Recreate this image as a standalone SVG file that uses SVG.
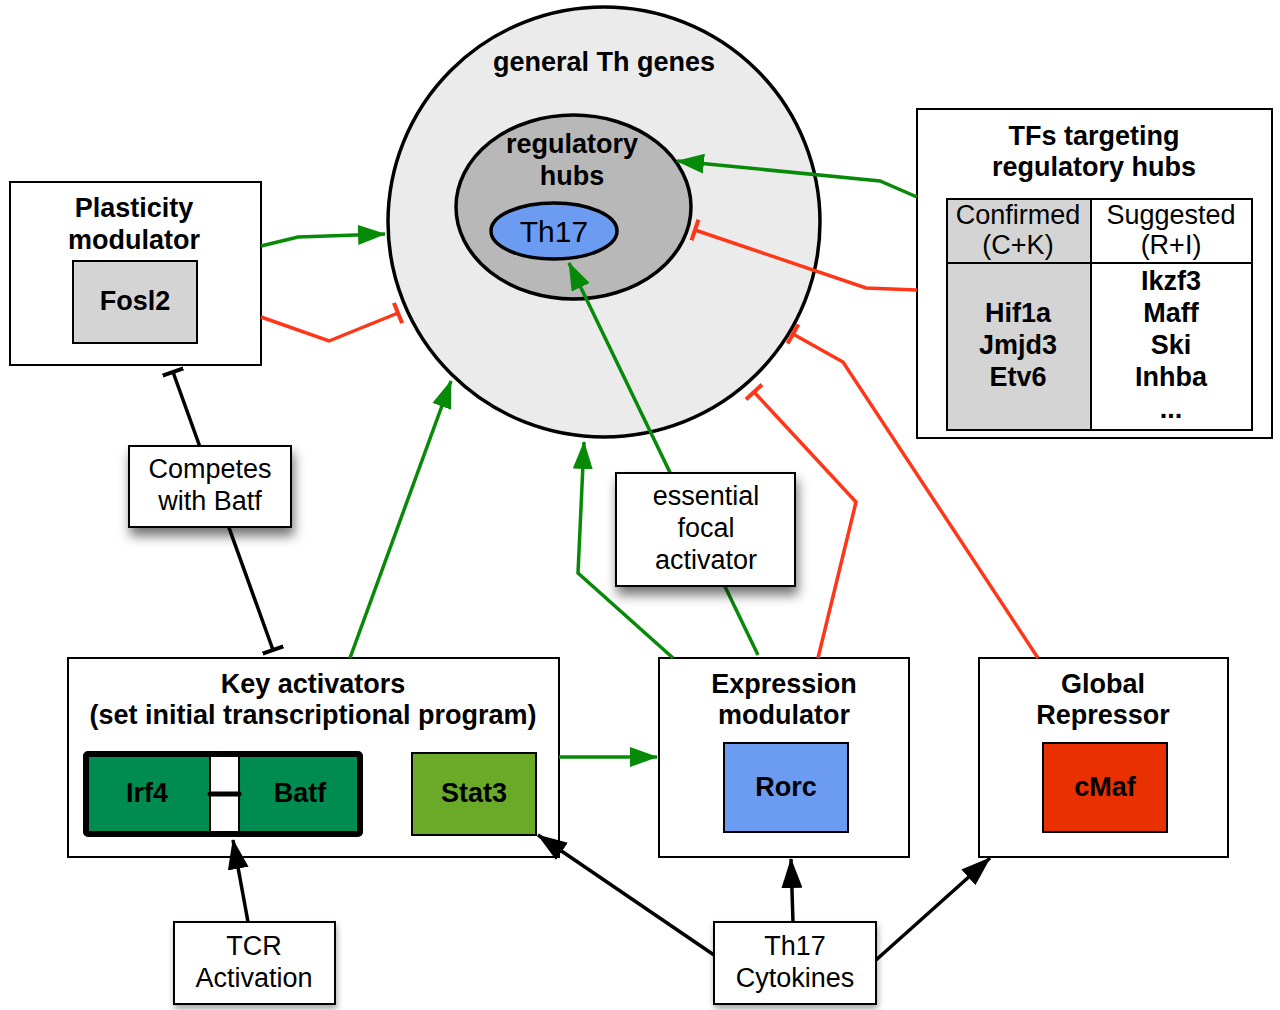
<svg xmlns="http://www.w3.org/2000/svg" width="1280" height="1010" viewBox="0 0 1280 1010">
<style>
text{font-family:"Liberation Sans",Arial,sans-serif;font-size:27px;fill:#000;text-anchor:middle}
.b{font-weight:bold}
.box{fill:#fff;stroke:#000;stroke-width:2}
.g{fill:none;stroke:#078a07;stroke-width:3.5}
.r{fill:none;stroke:#ff3617;stroke-width:3.5}
.k{fill:none;stroke:#000;stroke-width:3.5}
</style>
<defs>
<marker id="ag" viewBox="0 0 28 20" refX="27" refY="10" markerWidth="28" markerHeight="20" orient="auto" markerUnits="userSpaceOnUse"><path d="M0,0 L28,10 L0,20 z" fill="#078a07"/></marker>
<marker id="ak" viewBox="0 0 30 21" refX="29" refY="10.5" markerWidth="30" markerHeight="21" orient="auto" markerUnits="userSpaceOnUse"><path d="M0,0 L30,10.5 L0,21 z" fill="#000"/></marker>
<marker id="br" viewBox="0 0 6 22" refX="3" refY="11" markerWidth="6" markerHeight="22" orient="auto" markerUnits="userSpaceOnUse"><path d="M3,0 L3,22" stroke="#ff3617" stroke-width="4"/></marker>
<marker id="bk" viewBox="0 0 6 22" refX="3" refY="11" markerWidth="6" markerHeight="22" orient="auto" markerUnits="userSpaceOnUse"><path d="M3,0 L3,22" stroke="#000" stroke-width="4"/></marker>
<filter id="sh" x="-20%" y="-20%" width="150%" height="170%"><feDropShadow dx="2" dy="8" stdDeviation="6" flood-color="#000" flood-opacity="0.55"/></filter>
<filter id="sh2" x="-20%" y="-20%" width="150%" height="160%"><feDropShadow dx="1" dy="4" stdDeviation="3" flood-color="#000" flood-opacity="0.35"/></filter>
</defs>

<g id="general-th-genes">
<ellipse cx="604" cy="222" rx="216" ry="215" fill="#ebebeb" stroke="#000" stroke-width="3.5"/>
<text class="b" x="604" y="71">general Th genes</text>
</g>
<g id="regulatory-hubs">
<ellipse cx="573.5" cy="207" rx="117.5" ry="92" fill="#b8b8b8" stroke="#000" stroke-width="3.5"/>
<text class="b" x="572" y="153">regulatory</text>
<text class="b" x="572" y="185">hubs</text>
</g>
<g id="th17">
<ellipse cx="554" cy="231" rx="63" ry="28" fill="#6b9cf2" stroke="#000" stroke-width="3.5"/>
<text x="554" y="242" style="font-size:30px">Th17</text>
</g>

<g id="plasticity-modulator">
<rect class="box" x="10" y="182" width="251" height="183"/>
<text class="b" x="134" y="217">Plasticity</text>
<text class="b" x="134" y="249">modulator</text>
<rect x="73" y="261" width="124" height="82" fill="#d4d4d4" stroke="#000" stroke-width="2"/>
<text class="b" x="135" y="310">Fosl2</text>
</g>

<g id="tfs-targeting">
<rect class="box" x="917" y="109" width="355" height="329"/>
<text class="b" x="1094" y="145">TFs targeting</text>
<text class="b" x="1094" y="176">regulatory hubs</text>
<rect x="947" y="199" width="144" height="231" fill="#d4d4d4"/>
<rect x="947" y="199" width="305" height="231" fill="none" stroke="#000" stroke-width="2"/>
<line x1="1091" y1="199" x2="1091" y2="430" stroke="#000" stroke-width="2"/>
<line x1="947" y1="263" x2="1252" y2="263" stroke="#000" stroke-width="2"/>
<text x="1018" y="224">Confirmed</text>
<text x="1018" y="254">(C+K)</text>
<text x="1171" y="224">Suggested</text>
<text x="1171" y="254">(R+I)</text>
<text class="b" x="1018" y="322">Hif1a</text>
<text class="b" x="1018" y="354">Jmjd3</text>
<text class="b" x="1018" y="386">Etv6</text>
<text class="b" x="1171" y="290">Ikzf3</text>
<text class="b" x="1171" y="322">Maff</text>
<text class="b" x="1171" y="354">Ski</text>
<text class="b" x="1171" y="386">Inhba</text>
<text class="b" x="1171" y="418">...</text>
</g>

<g id="key-activators">
<rect class="box" x="68" y="658" width="491" height="199"/>
<text class="b" x="313" y="693">Key activators</text>
<text class="b" x="313" y="724">(set initial transcriptional program)</text>
<rect x="86" y="754" width="274" height="80" fill="#008c50" stroke="#000" stroke-width="6" rx="2"/>
<rect x="210" y="756" width="29" height="76" fill="#fff" stroke="#000" stroke-width="2"/>
<line x1="210" y1="794" x2="239" y2="794" stroke="#000" stroke-width="5" stroke-linecap="round"/>
<text class="b" x="147" y="802">Irf4</text>
<text class="b" x="300" y="802">Batf</text>
<rect x="412" y="753" width="124" height="82" fill="#6aaa28" stroke="#000" stroke-width="2"/>
<text class="b" x="474" y="802">Stat3</text>
</g>

<g id="expression-modulator">
<rect class="box" x="659" y="658" width="250" height="199"/>
<text class="b" x="784" y="693">Expression</text>
<text class="b" x="784" y="724">modulator</text>
<rect x="724" y="743" width="124" height="89" fill="#6b9cf2" stroke="#000" stroke-width="2"/>
<text class="b" x="786" y="796">Rorc</text>
</g>

<g id="global-repressor">
<rect class="box" x="979" y="658" width="249" height="199"/>
<text class="b" x="1103" y="693">Global</text>
<text class="b" x="1103" y="724">Repressor</text>
<rect x="1043" y="743" width="124" height="89" fill="#e83000" stroke="#000" stroke-width="2"/>
<text class="b" x="1105" y="796">cMaf</text>
</g>

<g id="connectors">
<path class="g" d="M261,246 L298,237 L385,234" marker-end="url(#ag)"/>
<path class="r" d="M261,317 L329,341 L398,313" marker-end="url(#br)"/>
<path class="k" d="M173,372 L273,650" marker-start="url(#bk)" marker-end="url(#bk)"/>
<path class="g" d="M350,658 L451,381" marker-end="url(#ag)"/>
<path class="g" d="M559,757 L657,757" marker-end="url(#ag)"/>
<path class="g" d="M673,658 L578,573 L584,442" marker-end="url(#ag)"/>
<path class="g" d="M758,655 L569,263" marker-end="url(#ag)"/>
<path class="r" d="M818,658 L856,502 L754,392" marker-end="url(#br)"/>
<path class="r" d="M1038,658 L843,362 L793,334" marker-end="url(#br)"/>
<path class="g" d="M917,197 L880,181 L677,161" marker-end="url(#ag)"/>
<path class="r" d="M917,290 L866,288 L695,230" marker-end="url(#br)"/>
<path class="k" d="M248,922 L233,840" marker-end="url(#ak)"/>
<path class="k" d="M714,955 L538,835" marker-end="url(#ak)"/>
<path class="k" d="M793,922 L791,859" marker-end="url(#ak)"/>
<path class="k" d="M876,960 L990,858" marker-end="url(#ak)"/>
</g>

<g id="competes-with-batf">
<rect class="box" x="129" y="446" width="162" height="81" filter="url(#sh)"/>
<text x="210" y="478">Competes</text>
<text x="210" y="510">with Batf</text>
</g>
<g id="essential-focal-activator">
<rect class="box" x="616" y="473" width="179" height="113" filter="url(#sh)"/>
<text x="706" y="505">essential</text>
<text x="706" y="537">focal</text>
<text x="706" y="569">activator</text>
</g>
<g id="tcr-activation">
<rect class="box" x="174" y="922" width="161" height="82" filter="url(#sh2)"/>
<text x="254" y="955">TCR</text>
<text x="254" y="987">Activation</text>
</g>
<g id="th17-cytokines">
<rect class="box" x="714" y="922" width="162" height="82" filter="url(#sh2)"/>
<text x="795" y="955">Th17</text>
<text x="795" y="987">Cytokines</text>
</g>
</svg>
